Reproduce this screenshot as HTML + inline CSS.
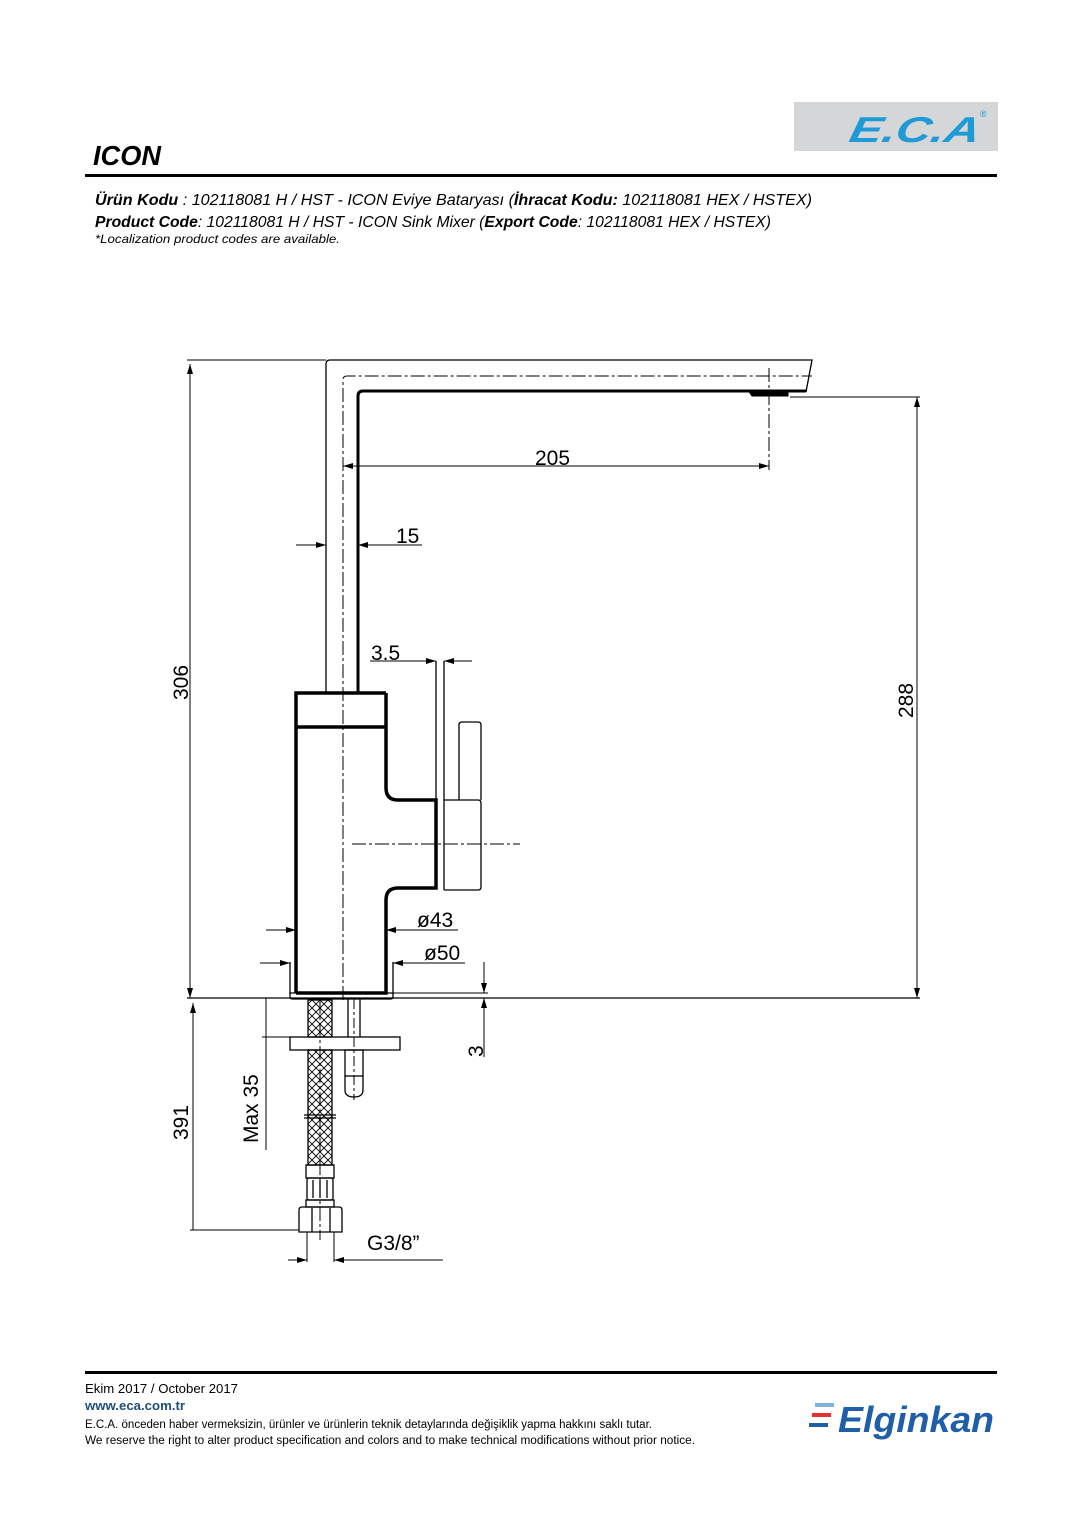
<!DOCTYPE html>
<html><head><meta charset="utf-8"><style>
html,body{margin:0;padding:0;background:#fff}
svg{display:block}
text{font-family:"Liberation Sans",sans-serif}
</style></head><body>
<svg width="1080" height="1527" viewBox="0 0 1080 1527" xmlns="http://www.w3.org/2000/svg">
<defs>
<marker id="a" viewBox="0 0 10 6" refX="10" refY="3" markerWidth="10" markerHeight="6" orient="auto-start-reverse" markerUnits="userSpaceOnUse"><path d="M0,0L10,3L0,6z" fill="#000"/></marker>
<pattern id="x" width="8" height="8" patternUnits="userSpaceOnUse"><path d="M0,0L8,8M8,0L0,8" stroke="#000" stroke-width="0.9"/></pattern>
</defs>
<!-- header -->
<rect x="794" y="102" width="204" height="49" fill="#d4d6d8"/>
<text x="848" y="142" font-size="36" font-weight="bold" font-style="italic" fill="#1e9ad6" transform="skewX(-12) translate(30,0)" textLength="130" lengthAdjust="spacingAndGlyphs">E.C.A</text>
<text x="980" y="117" font-size="9" fill="#1e9ad6">®</text>
<text x="93" y="165" font-size="28" font-weight="bold" font-style="italic" textLength="68" lengthAdjust="spacingAndGlyphs">ICON</text>
<rect x="85" y="174" width="912" height="3" fill="#000"/>
<g font-size="16" font-style="italic">
<text x="95" y="205" textLength="717" lengthAdjust="spacingAndGlyphs"><tspan font-weight="bold">Ürün Kodu</tspan>    : 102118081 H / HST - ICON Eviye Bataryası (<tspan font-weight="bold">İhracat Kodu:</tspan> 102118081 HEX / HSTEX)</text>
<text x="95" y="227" textLength="676" lengthAdjust="spacingAndGlyphs"><tspan font-weight="bold">Product Code</tspan>: 102118081 H / HST - ICON Sink Mixer (<tspan font-weight="bold">Export Code</tspan>: 102118081 HEX / HSTEX)</text>
<text x="95" y="243" font-size="12" textLength="245" lengthAdjust="spacingAndGlyphs">*Localization product codes are available.</text>
</g>
<!-- drawing -->
<g fill="none" stroke="#000" stroke-width="1.3">
<!-- spout -->
<path d="M326,692 V364 Q326,360 330,360 H812 L806,392"/>
<path d="M358,692 V396 Q358,391 363,391 H806" stroke-width="3"/>
<path d="M750,393 H788 V396 H752 Z" fill="#000" stroke-width="1"/>
<path d="M343,1000 V380 Q343,376 347,376 H812" stroke-dasharray="14,3,3,3" stroke-width="1"/>
<path d="M769,368 V470" stroke-dasharray="14,3,3,3" stroke-width="1"/>
<!-- body -->
<path d="M296,993 V693 H386" stroke-width="3.5"/>
<path d="M326,693 H386" stroke-width="1.3"/>
<path d="M296,727 H386" stroke-width="3.5"/>
<path d="M386,693 V788 Q386,800 398,800 H436 V888 H398 Q386,888 386,900 V993 H296" stroke-width="3.5"/>
<path d="M290,993 H393 V997 Q393,999 390,999 H293 Q290,999 290,997 Z"/>
<path d="M290,993 V962 M393,993 V962"/>
<path d="M436,661 V800 M444,661 V890"/>
<path d="M444,800 H478 Q481,800 481,803 V887 Q481,890 478,890 H444"/>
<path d="M459,800 V725 Q459,722 462,722 H478 Q481,722 481,725 V800"/>
<path d="M352,844 H520" stroke-dasharray="14,3,3,3" stroke-width="1"/>
<!-- ground -->
<path d="M187,998 H920" stroke-width="1.3"/>
<!-- under sink -->
<rect x="308" y="1000" width="24" height="37" fill="url(#x)"/>
<rect x="308" y="1050" width="24" height="115" fill="url(#x)"/>
<path d="M320,1000 V1240" stroke-dasharray="14,3,3,3" stroke-width="1"/>
<rect x="290" y="1037" width="110" height="13"/>
<path d="M348,999 V1037 M360,999 V1037"/>
<path d="M354,999 V1100" stroke-dasharray="10,3,3,3" stroke-width="1"/>
<rect x="345" y="1050" width="18" height="26"/>
<path d="M345,1076 V1090 Q345,1097 354,1097 Q363,1097 363,1090 V1076"/>
<path d="M304,1115 H336 M304,1118 H336"/>
<rect x="306" y="1165" width="28" height="13"/>
<rect x="307" y="1178" width="26" height="22" rx="2"/>
<path d="M313,1180 V1198 M320,1180 V1198 M327,1180 V1198"/>
<rect x="306" y="1200" width="28" height="7"/>
<path d="M299,1210 Q299,1207 302,1207 H339 Q342,1207 342,1210 V1232 H299 Z"/>
<path d="M312,1208 V1232 M330,1208 V1232"/>
<!-- dimensions -->
<g stroke-width="1">
<path d="M187,360 H326"/>
<path d="M190,364 V998" marker-start="url(#a)" marker-end="url(#a)"/>
<path d="M790,397 H920"/>
<path d="M917,397 V998" marker-start="url(#a)" marker-end="url(#a)"/>
<path d="M343,466 H769" marker-start="url(#a)" marker-end="url(#a)"/>
<path d="M296,545 H326" marker-end="url(#a)"/>
<path d="M422,545 H358" marker-end="url(#a)"/>
<path d="M370,661 H436" marker-end="url(#a)"/>
<path d="M472,661 H444" marker-end="url(#a)"/>
<path d="M266,930 H296" marker-end="url(#a)"/>
<path d="M458,930 H386" marker-end="url(#a)"/>
<path d="M260,963 H290" marker-end="url(#a)"/>
<path d="M465,963 H393" marker-end="url(#a)"/>
<path d="M393,993 H488"/>
<path d="M484,962 V993" marker-end="url(#a)"/>
<path d="M484,1057 V998" marker-end="url(#a)"/>
<path d="M193,1003 V1230" marker-start="url(#a)"/>
<path d="M190,1230 H299"/>
<path d="M266,998 V1150"/>
<path d="M262,1037 H290"/>
<path d="M307,1232 V1262 M334,1232 V1262"/>
<path d="M288,1260 H307" marker-end="url(#a)"/>
<path d="M443,1260 H334" marker-end="url(#a)"/>
</g>
</g>
<g font-size="21" fill="#000">
<text x="535" y="465">205</text>
<text x="396" y="543">15</text>
<text x="371" y="660">3.5</text>
<text x="417" y="927">ø43</text>
<text x="424" y="960">ø50</text>
<text x="367" y="1250">G3/8”</text>
<text transform="translate(188,700) rotate(-90)">306</text>
<text transform="translate(913,718) rotate(-90)">288</text>
<text transform="translate(188,1140) rotate(-90)">391</text>
<text transform="translate(258,1143) rotate(-90)">Max  35</text>
<text transform="translate(483,1057) rotate(-90)">3</text>
</g>
<!-- footer -->
<rect x="85" y="1371" width="912" height="3" fill="#000"/>
<g font-size="13">
<text x="85" y="1393" textLength="153" lengthAdjust="spacingAndGlyphs">Ekim 2017 / October 2017</text>
<text x="85" y="1410" font-weight="bold" fill="#1f4e79" textLength="100" lengthAdjust="spacingAndGlyphs">www.eca.com.tr</text>
<text x="85" y="1428" font-size="11.5" textLength="567" lengthAdjust="spacingAndGlyphs">E.C.A. önceden haber vermeksizin, ürünler ve ürünlerin teknik detaylarında değişiklik yapma hakkını saklı tutar.</text>
<text x="85" y="1444" font-size="11.5" textLength="610" lengthAdjust="spacingAndGlyphs">We reserve the right to alter product specification and colors and to make technical modifications without prior notice.</text>
</g>
<rect x="815" y="1403" width="19" height="4" fill="#7fb2dc"/>
<rect x="812" y="1413" width="19" height="4" fill="#e5322d"/>
<rect x="809" y="1423" width="19" height="4" fill="#1f5fa8"/>
<text x="838" y="1432" font-size="36" font-weight="bold" font-style="italic" fill="#1f5fa8" textLength="156" lengthAdjust="spacingAndGlyphs">Elginkan</text>
</svg>
</body></html>
